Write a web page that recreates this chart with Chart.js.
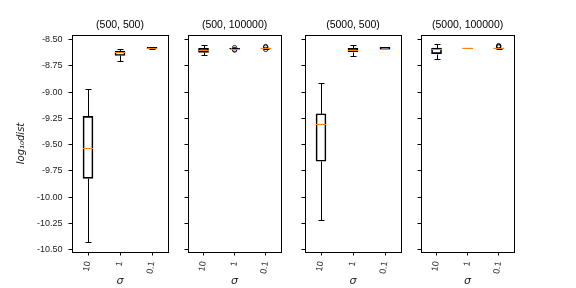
<!DOCTYPE html>
<html>
<head>
<meta charset="utf-8">
<script src="https://cdn.jsdelivr.net/npm/chart.js@4.4.1/dist/chart.umd.min.js"></script>
<style>
  html, body { margin: 0; padding: 0; background: #fff; }
  #wrap { position: relative; width: 576px; height: 288px; overflow: hidden; }
  #wrap canvas { position: absolute; top: 0; }
</style>
</head>
<body>
<div id="wrap"></div>
<script>
// categories and panel titles
const sigmaLabels = ['10', '1', '0.1'];
const panelTitles = ['(500, 500)', '(500, 100000)', '(5000, 500)', '(5000, 100000)'];
const yTickValues = [-10.5, -10.25, -10.0, -9.75, -9.5, -9.25, -9.0, -8.75, -8.5];

// box statistics, one row per panel, one column per sigma
const whiskerLow = [
  [-10.43, -8.703, -8.590],
  [-8.646, -8.587, -8.586],
  [-10.22, -8.652, -8.593],
  [-8.684, -8.582, -8.585]
];
const quartile1 = [
  [-9.82, -8.650, -8.586],
  [-8.620, -8.585, -8.584],
  [-9.658, -8.614, -8.590],
  [-8.633, -8.582, -8.584]
];
const medians = [
  [-9.53, -8.619, -8.579],
  [-8.601, -8.584, -8.582],
  [-9.30, -8.598, -8.584],
  [-8.584, -8.582, -8.582]
];
const quartile3 = [
  [-9.23, -8.608, -8.572],
  [-8.582, -8.583, -8.580],
  [-9.205, -8.582, -8.572],
  [-8.580, -8.580, -8.580]
];
const whiskerHigh = [
  [-8.97, -8.592, -8.566],
  [-8.553, -8.581, -8.578],
  [-8.915, -8.548, -8.568],
  [-8.541, -8.580, -8.578]
];
// outliers: sigma label and value
const flierSigma = [
  [],
  ['1', '1', '1', '0.1', '0.1', '0.1'],
  [],
  ['0.1', '0.1', '0.1']
];
const flierValue = [
  [],
  [-8.575, -8.593, -8.598, -8.565, -8.572, -8.592],
  [],
  [-8.556, -8.564, -8.570]
];

// layout of the four panels (pixels)
const plotLeft = [72, 188, 305, 421];
const plotW = 96;
const plotTop = 35, plotBottom = 252, figH = 288;
const boxWidth = 10, capWidth = 5;
const medianColor = '#ff7f0e';

function makeBoxPlugin(p) {
  return {
    id: 'boxParts' + p,
    afterDatasetsDraw(chart) {
      const { ctx, chartArea: a, scales: { x, y } } = chart;
      const px = v => Math.round(y.getPixelForValue(v)) + 0.5;
      ctx.save();
      ctx.lineWidth = 1;
      sigmaLabels.forEach((s, i) => {
        const cx = Math.round(x.getPixelForValue(i)) + 0.5;
        const lo = px(whiskerLow[p][i]);
        const hi = px(whiskerHigh[p][i]);
        const q1 = px(quartile1[p][i]);
        const q3 = px(quartile3[p][i]);
        const md = px(medians[p][i]);
        ctx.strokeStyle = '#000';
        ctx.beginPath();
        ctx.moveTo(cx, q1); ctx.lineTo(cx, lo);
        ctx.moveTo(cx, q3); ctx.lineTo(cx, hi);
        ctx.moveTo(cx - capWidth / 2 - 0.5, lo);
        ctx.lineTo(cx + capWidth / 2 + 0.5, lo);
        ctx.moveTo(cx - capWidth / 2 - 0.5, hi);
        ctx.lineTo(cx + capWidth / 2 + 0.5, hi);
        ctx.stroke();
        ctx.strokeStyle = medianColor;
        ctx.beginPath();
        ctx.moveTo(cx - 0.5 - boxWidth / 2, md);
        ctx.lineTo(cx - 0.5 + boxWidth / 2, md);
        ctx.stroke();
      });
      // axes frame
      ctx.strokeStyle = '#000';
      ctx.strokeRect(Math.round(a.left) + 0.5, Math.round(a.top) + 0.5,
        Math.round(a.right - a.left), Math.round(a.bottom - a.top));
      ctx.restore();
    }
  };
}

const wrap = document.getElementById('wrap');

panelTitles.forEach((title, p) => {
  const yw = p === 0 ? 72 : 20;
  const canvas = document.createElement('canvas');
  const w = yw + plotW + 2;
  canvas.width = w;
  canvas.height = figH;
  canvas.style.left = (plotLeft[p] - yw) + 'px';
  canvas.style.width = w + 'px';
  canvas.style.height = figH + 'px';
  wrap.appendChild(canvas);

  new Chart(canvas.getContext('2d'), {
    data: {
      labels: sigmaLabels,
      datasets: [
        {
          type: 'line',
          data: flierSigma[p].map((s, k) => ({ x: s, y: flierValue[p][k] })),
          showLine: false,
          pointRadius: 2.2,
          pointStyle: 'circle',
          borderColor: '#000',
          borderWidth: 0.8,
          backgroundColor: 'rgba(0,0,0,0)',
          order: 0
        },
        {
          type: 'bar',
          data: sigmaLabels.map((s, i) => [quartile1[p][i], quartile3[p][i]]),
          backgroundColor: 'rgba(0,0,0,0)',
          borderColor: '#000',
          borderWidth: 1,
          borderSkipped: false,
          barThickness: boxWidth,
          order: 1
        }
      ]
    },
    options: {
      responsive: false,
      animation: false,
      devicePixelRatio: 1,
      layout: { padding: { left: 0, right: 2, top: 0, bottom: 0 } },
      plugins: {
        legend: { display: false },
        tooltip: { enabled: false },
        title: {
          display: true,
          fullSize: false,
          text: title,
          color: '#000',
          font: { family: 'Liberation Sans', size: 10.5, weight: 'normal', lineHeight: 1.2 },
          padding: { top: 18.5, bottom: plotTop - 18.5 - 12.6 }
        }
      },
      scales: {
        x: {
          type: 'category',
          offset: true,
          grid: { display: true, drawOnChartArea: false, drawTicks: true, tickLength: 3.5, color: '#000', offset: false },
          border: { display: false },
          ticks: {
            autoSkip: false, minRotation: 80, maxRotation: 80, padding: 5,
            color: '#222', font: { family: 'Liberation Sans', size: 9 }
          },
          title: {
            display: true, text: 'σ', color: '#222', padding: { top: 0, bottom: 0 },
            font: { family: 'DejaVu Sans', size: 11, style: 'italic' }
          },
          afterFit(scale) { scale.height = figH - plotBottom; }
        },
        y: {
          type: 'linear',
          min: -10.522,
          max: -8.455,
          grid: { display: true, drawOnChartArea: false, drawTicks: true, tickLength: 3.5, color: '#000' },
          border: { display: false },
          afterBuildTicks(scale) { scale.ticks = yTickValues.map(v => ({ value: v })); },
          ticks: {
            display: p === 0, padding: 6, color: '#222',
            font: { family: 'Liberation Sans', size: 9 },
            callback: v => v.toFixed(2)
          },
          title: {
            display: p === 0, text: 'log₁₀dist', color: '#222', padding: { top: 15.5, bottom: 0 },
            font: { family: 'DejaVu Sans', size: 10, style: 'italic' }
          },
          afterFit(scale) { scale.width = yw; }
        }
      }
    },
    plugins: [makeBoxPlugin(p)]
  });
});
</script>
</body>
</html>
